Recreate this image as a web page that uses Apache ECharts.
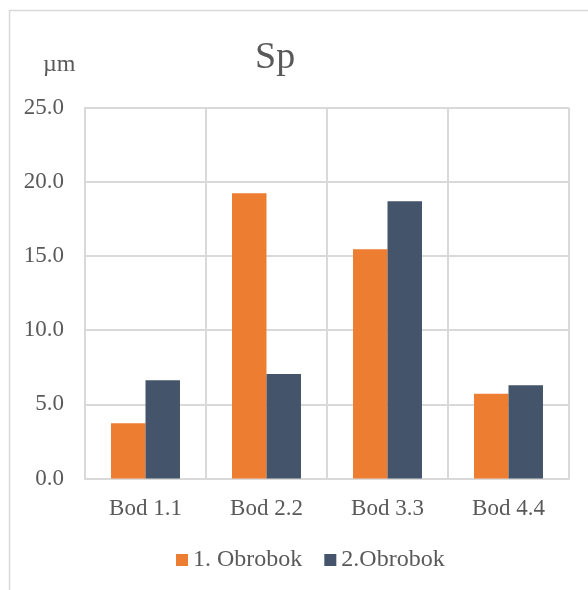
<!DOCTYPE html>
<html>
<head>
<meta charset="utf-8">
<script src="https://cdn.jsdelivr.net/npm/echarts@6/dist/echarts.min.js"></script>
<style>
  html, body { margin: 0; padding: 0; background: #fff; }
  #main { width: 588px; height: 590px; }
</style>
</head>
<body>
<div id="main"></div>
<script>
var categories = ['Bod 1.1', 'Bod 2.2', 'Bod 3.3', 'Bod 4.4'];
var obrobok1 = [3.72, 19.23, 15.45, 5.72];
var obrobok2 = [6.62, 7.05, 18.69, 6.28];
var yTicks = { min: 0, max: 25, interval: 5 };

var font = '"Liberation Serif", "Times New Roman", serif';
var textColor = '#595959';
var gridColor = '#d9d9d9';

var myChart = echarts.init(document.getElementById('main'));

var option = {
    backgroundColor: '#fff',
    textStyle: { fontFamily: font },
    title: {
        text: 'Sp',
        left: 250,
        top: 34,
        textStyle: { fontFamily: font, fontSize: 38, fontWeight: 'normal', color: textColor }
    },
    graphic: [
        {
            type: 'rect',
            shape: { x: 9.5, y: 10.5, width: 640, height: 640 },
            style: { fill: 'none', stroke: gridColor, lineWidth: 1.5 },
            silent: true
        },
        {
            type: 'text',
            left: 43,
            top: 53,
            style: { text: 'µm', font: '24px ' + font, fill: textColor }
        }
    ],
    legend: {
        bottom: 13,
        left: 171,
        itemWidth: 12,
        itemHeight: 12,
        itemGap: 22,
        icon: 'rect',
        textStyle: { fontFamily: font, fontSize: 24, color: textColor }
    },
    grid: { left: 85, right: 19, top: 107.7, bottom: 111.5 },
    xAxis: {
        type: 'category',
        data: categories,
        axisLine: { lineStyle: { color: gridColor, width: 2 } },
        axisTick: { show: false },
        splitLine: { show: true, lineStyle: { color: gridColor, width: 2 } },
        axisLabel: { fontFamily: font, fontSize: 23, color: textColor, margin: 19 }
    },
    yAxis: {
        type: 'value',
        min: yTicks.min,
        max: yTicks.max,
        interval: yTicks.interval,
        axisLine: { show: true, lineStyle: { color: gridColor, width: 2 } },
        axisTick: { show: false },
        splitLine: { lineStyle: { color: gridColor, width: 2 } },
        axisLabel: {
            fontFamily: font, fontSize: 23, color: textColor, margin: 21,
            formatter: function (v) { return v.toFixed(1); }
        }
    },
    series: [
        {
            name: '1. Obrobok',
            type: 'bar',
            data: obrobok1,
            barGap: '0%',
            barCategoryGap: '43%',
            itemStyle: { color: '#ED7D31' }
        },
        {
            name: '2.Obrobok',
            type: 'bar',
            data: obrobok2,
            barGap: '0%',
            barCategoryGap: '43%',
            itemStyle: { color: '#44546A' }
        }
    ]
};

option && myChart.setOption(option);
</script>
</body>
</html>
